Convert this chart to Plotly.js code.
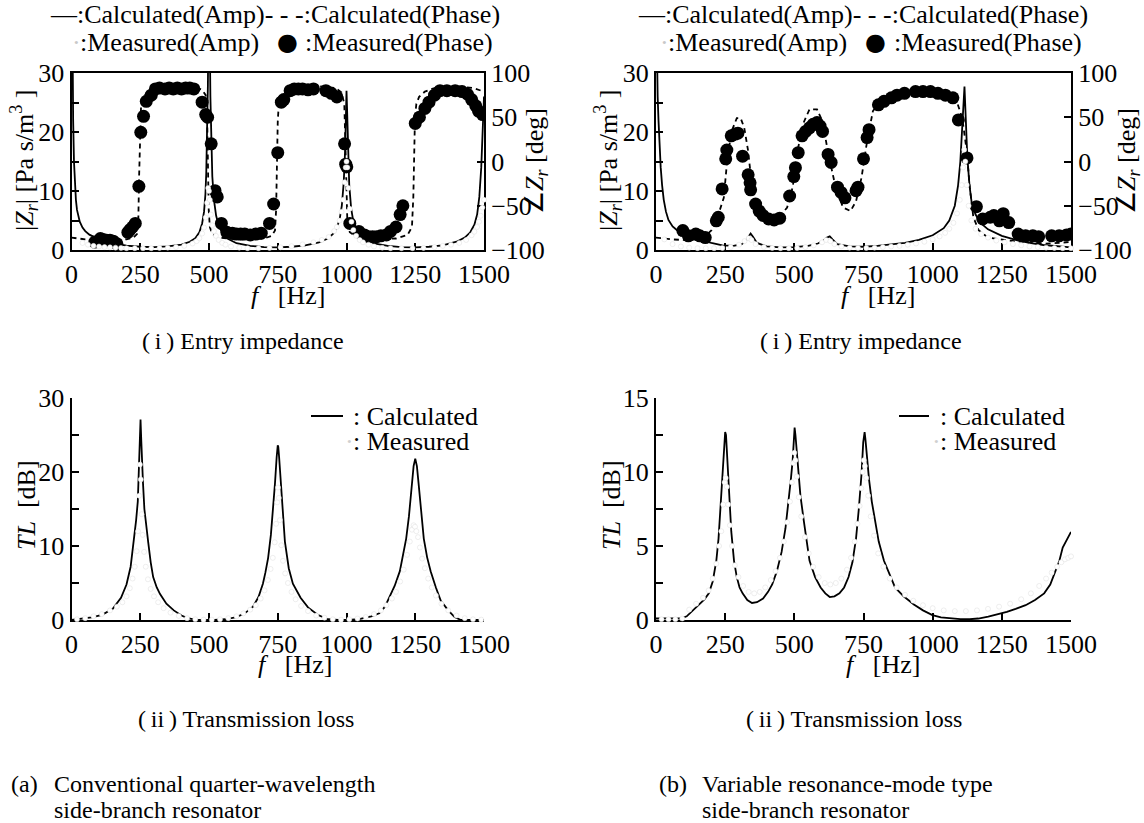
<!DOCTYPE html>
<html>
<head>
<meta charset="utf-8">
<script src="https://cdn.plot.ly/plotly-3.0.1.min.js"></script>
<style>html,body{margin:0;padding:0;background:#fff;}#chart{width:1144px;height:823px;}</style>
</head>
<body>
<div id="chart"></div>
<script>
// ---------- (a) conventional resonator : entry impedance ----------
// [f (Hz), |Zr| (Pa s/m^3)]
const aCalcAmp = [[0,60],[3,32],[6,22],[9,15],[12,11],[16,8.5],[20,6.8],[25,5.6],[30,4.8],[40,3.8],[50,3.2],[65,2.6],[80,2.2],[100,1.8],[130,1.35],[160,1.05],[200,0.75],[250,0.55],[300,0.5],[350,0.6],[400,0.9],[430,1.4],[450,2.0],[465,3.0],[475,4.5],[482,6.5],[487,9.5],[490,13],[493,19],[496,28],[499,45],[502,40],[505,26],[508,18],[512,12.5],[518,8.5],[526,5.8],[535,4.2],[548,2.9],[565,2.0],[600,1.15],[650,0.7],[700,0.5],[750,0.45],[800,0.55],[850,0.8],[900,1.3],[930,1.9],[950,2.7],[965,3.8],[975,5.2],[983,7.5],[990,11.5],[995,17],[998,23],[1000,27],[1002,24],[1005,17],[1010,11],[1017,7],[1025,4.8],[1040,3.1],[1060,2.1],[1100,1.1],[1150,0.7],[1200,0.5],[1250,0.45],[1300,0.55],[1350,0.8],[1400,1.4],[1430,2.1],[1450,3.0],[1465,4.3],[1475,6],[1483,9],[1490,14],[1495,20],[1500,26]];
// [f, phase (deg)]
const aCalcPhase = [[0,-86],[50,-88],[100,-89],[150,-89],[200,-88],[225,-86],[238,-82],[243,-65],[246,-15],[249,40],[253,64],[260,72],[275,78],[300,82],[350,84],[400,85],[450,84],[475,81],[488,75],[493,55],[496,0],[499,-55],[503,-74],[512,-82],[540,-86],[600,-88],[650,-88],[700,-87],[728,-84],[740,-78],[744,-55],[747,0],[750,45],[754,66],[762,74],[780,80],[820,84],[900,85],[960,83],[982,78],[992,65],[996,20],[999,-40],[1003,-68],[1012,-80],[1040,-86],[1100,-88],[1180,-87],[1222,-83],[1238,-74],[1243,-40],[1246,15],[1249,50],[1254,65],[1264,73],[1285,79],[1320,83],[1400,85],[1460,83],[1490,80],[1500,78]];
const aMeasAmp = [[40,1.2],[60,0.9],[80,0.7],[100,0.6],[120,0.5],[140,0.45],[160,0.4],[180,0.35],[200,0.3],[230,0.3],[260,0.3],[290,0.3],[320,0.35],[350,0.4],[380,0.5],[410,0.7],[440,1.1],[455,1.5],[465,2.0],[475,2.8],[482,3.8],[488,5.5],[493,8],[497,10.5],[500,10],[503,8.5],[507,6],[512,4.2],[518,3.2],[525,2.4],[535,1.7],[548,1.2],[560,0.9],[580,0.6],[610,0.4],[640,0.3],[680,0.3],[720,0.35],[760,0.45],[800,0.65],[840,0.95],[880,1.3],[910,1.7],[935,2.2],[955,3.2],[965,3.9],[975,5],[982,6.5],[988,8.5],[993,11.5],[997,14],[1000,15],[1003,14],[1007,10.5],[1012,7],[1018,4.8],[1025,3.4],[1035,2.4],[1048,1.7],[1060,1.3],[1080,0.9],[1100,0.6],[1130,0.4],[1160,0.3],[1200,0.3],[1240,0.3],[1280,0.35],[1320,0.5],[1350,0.7],[1380,0.9],[1410,1.2],[1435,1.7],[1455,2.5],[1465,3.1],[1475,3.9],[1482,4.8],[1488,5.8],[1494,7.2],[1500,8.5]];
const aMeasPhase = [[85,-91],[105,-87],[115,-88],[128,-89],[140,-89],[152,-90],[165,-93],[205,-80],[213,-77],[222,-74],[232,-70],[245,-28],[252,33],[262,51],[272,68],[290,75],[305,82],[320,83],[340,82],[355,83],[370,82],[385,83],[400,82],[415,83],[430,83],[445,82],[475,67],[488,53],[495,50],[508,20],[522,-33],[530,-40],[545,-70],[565,-80],[585,-81],[600,-82],[615,-82],[630,-82],[650,-83],[670,-82],[690,-81],[720,-70],[735,-48],[750,10],[763,67],[772,70],[795,80],[810,82],[825,82],[840,82],[860,81],[880,82],[925,80],[945,77],[965,73],[993,20],[997,-3],[1001,-6],[1012,-70],[1045,-79],[1065,-83],[1080,-85],[1095,-85],[1110,-85],[1125,-84],[1145,-83],[1160,-79],[1180,-74],[1195,-60],[1205,-50],[1250,43],[1265,50],[1285,60],[1300,67],[1320,75],[1340,80],[1365,80],[1395,80],[1420,79],[1440,76],[1455,70],[1470,63],[1480,57],[1495,53]];

// ---------- (b) variable resonance-mode resonator : entry impedance ----------
const bCalcAmp = [[0,45],[3,30],[6,26],[9,22],[12,18],[17,14],[22,11],[28,8.5],[36,6.5],[45,5.1],[60,4.0],[75,3.4],[95,2.8],[115,2.4],[140,2.0],[170,1.6],[200,1.2],[240,0.8],[280,0.7],[310,1.0],[325,1.6],[335,2.3],[342,2.8],[350,2.3],[365,1.2],[400,0.6],[450,0.45],[500,0.5],[550,0.7],[585,1.1],[605,1.6],[618,2.1],[628,2.3],[638,1.8],[655,1.0],[700,0.6],[750,0.55],[800,0.7],[850,0.9],[900,1.2],[950,1.7],[1000,2.5],[1040,3.7],[1060,5.0],[1080,7.5],[1092,11],[1100,15],[1106,20],[1111,25],[1115,27.7],[1119,23],[1125,16],[1133,11],[1141,8],[1155,6],[1175,4.5],[1200,3.5],[1250,2.4],[1300,1.7],[1350,1.2],[1400,0.85],[1450,0.6],[1500,0.45]];
const bCalcPhase = [[0,-86],[57,-88],[120,-89],[170,-86],[200,-78],[218,-67],[245,-41],[256,-3],[272,33],[292,49],[306,49],[319,38],[333,12],[346,-26],[366,-52],[400,-63],[440,-65],[474,-52],[494,-29],[514,16],[535,45],[555,59],[582,59],[602,45],[622,10],[649,-29],[676,-52],[703,-56],[723,-45],[743,-18],[763,23],[784,57],[811,68],[864,77],[932,81],[999,81],[1053,77],[1087,68],[1107,49],[1123,12],[1134,-29],[1147,-63],[1167,-78],[1200,-86],[1268,-89],[1400,-93],[1500,-91]];
const bMeasAmp = [[30,1.8],[60,1.0],[90,0.6],[120,0.4],[150,0.3],[180,0.3],[210,0.3],[240,0.35],[270,0.5],[300,0.9],[320,1.5],[335,2.0],[345,1.7],[360,1.0],[390,0.5],[420,0.35],[450,0.3],[480,0.3],[510,0.35],[540,0.5],[570,0.8],[600,1.3],[615,1.7],[630,1.5],[645,1.0],[670,0.6],[700,0.4],[730,0.35],[760,0.35],[790,0.4],[820,0.5],[850,0.6],[880,0.7],[910,0.9],[940,1.1],[970,1.4],[1000,1.8],[1025,2.3],[1045,2.9],[1060,3.6],[1075,4.6],[1088,6.2],[1098,8.5],[1105,11],[1110,14],[1114,17],[1118,15],[1123,11],[1130,7.5],[1140,5.0],[1155,3.6],[1175,2.7],[1200,2.1],[1230,1.6],[1260,1.3],[1290,1.0],[1320,0.8],[1350,0.6],[1380,0.5],[1410,0.4],[1440,0.35],[1470,0.3],[1500,0.3]];
const bMeasPhase = [[97,-78],[117,-84],[144,-82],[158,-84],[178,-86],[218,-67],[225,-63],[239,-31],[252,3],[256,13],[272,29],[286,31],[296,32],[313,6],[333,-15],[340,-24],[342,-32],[360,-48],[373,-56],[387,-61],[407,-65],[427,-66],[447,-64],[483,-39],[498,-17],[504,-7],[514,10],[528,29],[541,34],[555,38],[568,42],[582,44],[593,40],[602,34],[622,8],[633,-1],[656,-29],[669,-35],[683,-41],[723,-33],[730,-29],[750,3],[763,27],[770,36],[804,64],[824,68],[851,72],[871,75],[898,77],[938,79],[965,79],[992,79],[1019,77],[1046,75],[1073,72],[1093,47],[1124,4],[1158,-51],[1181,-65],[1208,-63],[1221,-61],[1241,-67],[1255,-59],[1275,-69],[1309,-82],[1336,-84],[1362,-84],[1383,-85],[1430,-84],[1457,-84],[1484,-83],[1500,-82]];

// ---------- transmission loss [f, TL dB] ----------
const aCalcTL = [[0,0],[40,0.15],[73,0.35],[111,0.7],[150,1.5],[180,3.0],[200,4.8],[215,7.2],[225,10],[235,13.5],[241,16],[245,19.5],[248,24],[251,27.1],[254,24],[257,20.5],[260,18.5],[265,15],[272,12.5],[279,10.5],[288,7.8],[297,5.8],[310,4.4],[322,3.5],[345,2.2],[372,1.3],[400,0.6],[422,0.25],[450,0.05],[480,0],[520,0],[560,0.1],[600,0.4],[630,0.9],[660,1.8],[680,3.1],[696,4.9],[705,6.4],[715,8.4],[725,11.5],[733,15],[740,18.5],[746,22],[750,23.6],[752,23.4],[755,22],[760,19.4],[768,14.5],[776,10.6],[790,7],[805,4.9],[833,3.0],[860,1.7],[895,0.7],[932,0.1],[970,0],[1010,0],[1050,0.15],[1090,0.5],[1119,0.9],[1140,1.8],[1156,3.1],[1175,4.6],[1194,6.6],[1205,8.5],[1217,11],[1227,14],[1237,18.5],[1244,20.8],[1250,21.8],[1256,20.8],[1262,18.5],[1272,14.5],[1281,11],[1293,8.5],[1306,6.6],[1325,4.4],[1343,2.6],[1370,1.3],[1393,0.4],[1416,0],[1450,0],[1500,0]];
const aMeasTL = [[20,0.1],[50,0.25],[80,0.5],[110,0.8],[140,1.3],[165,1.8],[185,2.4],[200,3.2],[212,4.3],[222,5.6],[230,7.2],[237,9.3],[242,12],[246,16.8],[249,21],[252,19],[255,14.3],[259,11.5],[264,9.2],[270,7.2],[278,5.5],[288,4.2],[300,3.2],[315,2.4],[335,1.6],[360,1.0],[390,0.55],[420,0.25],[450,0.1],[480,0.05],[510,0.05],[540,0.1],[570,0.25],[600,0.5],[625,0.9],[650,1.4],[670,2.0],[688,2.9],[702,4.0],[714,5.4],[724,6.9],[732,8.4],[739,10.5],[744,13],[748,15.9],[751,17.9],[754,16.5],[758,13.5],[763,10.1],[769,8],[777,6.3],[787,5.0],[800,3.8],[815,2.8],[835,1.9],[860,1.2],[890,0.6],[920,0.3],[950,0.1],[980,0.05],[1010,0.1],[1040,0.2],[1070,0.4],[1100,0.8],[1125,1.3],[1145,2.0],[1165,2.9],[1180,3.8],[1195,5.2],[1208,6.8],[1220,8.8],[1230,10.6],[1238,12.2],[1244,12.8],[1249,12.6],[1254,12.0],[1260,11.2],[1267,9.8],[1275,8.3],[1285,7.0],[1297,5.6],[1310,4.4],[1325,3.3],[1345,2.2],[1370,1.3],[1400,0.6],[1430,0.25],[1460,0.1],[1490,0.05]];
const bCalcTL = [[0,0.1],[30,0.1],[60,0.1],[90,0.1],[111,0.25],[125,0.5],[138,0.8],[155,1.1],[175,1.4],[191,1.8],[205,2.6],[218,4.0],[226,5.5],[232,7.3],[238,9.3],[243,11],[247,12.2],[250,12.7],[253,12.5],[257,11],[262,9.2],[267,7.5],[272,6],[282,4],[292,2.9],[302,2.2],[313,1.8],[330,1.35],[347,1.15],[365,1.2],[387,1.45],[405,1.9],[420,2.4],[437,3.3],[454,4.6],[468,6.2],[481,8.2],[488,9.6],[494,10.8],[498,12.2],[501,13.0],[504,12.5],[508,11.5],[514,10.0],[522,8.4],[535,6.6],[545,5.2],[555,4.0],[575,2.9],[595,2.2],[612,1.8],[628,1.55],[645,1.6],[663,1.8],[680,2.2],[696,2.9],[710,3.9],[723,5.5],[733,7.5],[743,9.9],[749,12.0],[752,12.6],[754,12.7],[757,12.2],[762,11.0],[770,9.5],[780,8.0],[790,6.8],[805,5.3],[824,4.0],[845,3.0],[864,2.2],[895,1.6],[932,1.05],[965,0.65],[999,0.33],[1030,0.18],[1066,0.1],[1100,0.06],[1134,0.05],[1165,0.1],[1201,0.22],[1235,0.38],[1268,0.55],[1300,0.75],[1336,1.0],[1370,1.35],[1403,1.8],[1425,2.4],[1443,3.3],[1458,4.0],[1470,4.9],[1485,5.4],[1497,5.85],[1500,5.95]];
const bMeasTL = [[20,0.05],[45,0.05],[70,0.05],[95,0.1],[120,0.7],[145,1.1],[170,1.5],[190,2.0],[205,2.8],[218,3.8],[228,5.0],[236,6.0],[243,7.8],[248,9.3],[252,9.6],[256,9.0],[261,7.8],[267,6.4],[275,5.0],[285,3.7],[298,2.9],[315,2.3],[335,1.9],[355,1.8],[375,1.9],[395,2.2],[415,2.7],[432,3.3],[448,4.2],[462,5.3],[474,6.6],[484,8.0],[491,9.3],[496,10.6],[500,11.3],[504,10.8],[509,9.7],[516,8.3],[525,7.0],[538,5.6],[552,4.5],[568,3.6],[588,2.9],[610,2.5],[630,2.4],[650,2.5],[670,2.8],[690,3.4],[705,4.2],[718,5.3],[728,6.5],[736,7.7],[742,8.9],[747,10.0],[751,10.8],[755,10.4],[760,9.6],[767,8.4],[776,7.0],[788,5.7],[803,4.5],[822,3.6],[845,2.8],[870,2.2],[900,1.7],[930,1.3],[965,1.0],[1000,0.8],[1040,0.65],[1080,0.6],[1120,0.6],[1160,0.65],[1200,0.75],[1240,0.9],[1280,1.1],[1320,1.4],[1355,1.8],[1385,2.3],[1410,2.8],[1430,3.2],[1450,3.6],[1465,3.9],[1478,4.1],[1490,4.2],[1500,4.3]];

// ---------- text ----------
const fTicks = [0,250,500,750,1000,1250,1500];
const legendTop1 = "\u2014:Calculated(Amp)- - -:Calculated(Phase)";
const legendTop2a = ":Measured(Amp)";
const legendTop2b = ":Measured(Phase)";
const capImp = "(\u2009i\u2009) Entry impedance";
const capTL = "(\u2009ii\u2009) Transmission loss";

// ---------- helpers ----------
const W = 1144, H = 823;
const FONT = "Liberation Serif, Times New Roman, serif";
const PX = x => x / W, PY = y => 1 - y / H;
const xs = a => a.map(p => p[0]), ys = a => a.map(p => p[1]);

function line(d, xa, ya, dash) {
  return {x: xs(d), y: ys(d), xaxis: xa, yaxis: ya, type: 'scatter', mode: 'lines',
    line: {color: 'black', width: 1.8, dash: dash || 'solid'}, hoverinfo: 'skip'};
}
function dots(d, xa, ya) {
  return {x: xs(d), y: ys(d), xaxis: xa, yaxis: ya, type: 'scatter', mode: 'markers',
    marker: {color: 'black', size: 13}, hoverinfo: 'skip'};
}
function white(d, xa, ya) {
  return {x: xs(d), y: ys(d), xaxis: xa, yaxis: ya, type: 'scatter', mode: 'markers', cliponaxis: false,
    marker: {color: 'white', size: 5, line: {color: '#dcdcdc', width: 0.5}}, hoverinfo: 'skip'};
}

const DASH = '5px,4px';
const traces = [
  line(aCalcPhase, 'x', 'y', DASH), dots(aMeasPhase, 'x', 'y'),
  line(aCalcAmp, 'x', 'y2'), white(aMeasAmp, 'x', 'y2'),
  line(bCalcPhase, 'x2', 'y3', DASH), dots(bMeasPhase, 'x2', 'y3'),
  line(bCalcAmp, 'x2', 'y4'), white(bMeasAmp, 'x2', 'y4'),
  line(aCalcTL, 'x3', 'y5'), white(aMeasTL, 'x3', 'y5'),
  line(bCalcTL, 'x4', 'y6'), white(bMeasTL, 'x4', 'y6')
];

const tickfont = {family: FONT, size: 26, color: 'black'};
const base = {showline: true, linecolor: 'black', linewidth: 2, ticks: 'inside', ticklen: 7, tickwidth: 2,
  tickcolor: 'black', showgrid: false, zeroline: false, tickfont: tickfont, layer: 'below traces', fixedrange: true};

function xax(dom, anchor, mirror) {
  return Object.assign({}, base, {domain: dom, anchor: anchor, range: [0, 1500], tickvals: fTicks,
    ticktext: fTicks.map(String), mirror: mirror});
}
function yax(dom, anchor, max, dt, minor, side, overlay) {
  const o = Object.assign({}, base, {anchor: anchor, range: [side === 'right' ? -100 : 0, max], dtick: dt, tick0: 0, side: side || 'left'});
  if (overlay) o.overlaying = overlay; else o.domain = dom;
  if (minor) o.minor = {dtick: minor, ticks: 'inside', ticklen: 7, tickwidth: 2, tickcolor: 'black', showgrid: false};
  return o;
}

const xTL = [PX(71.5), PX(484)], xTR = [PX(656), PX(1071)];
const yTop = [PY(250), PY(73)], yBot = [PY(620), PY(398)];

function ann(text, x, y, opts) {
  return Object.assign({text: text, x: PX(x), y: PY(y), xref: 'paper', yref: 'paper', showarrow: false,
    xanchor: 'center', yanchor: 'middle', font: {family: FONT, size: 26, color: 'black'}}, opts || {});
}
const annotations = [];
[0, 1].forEach(i => {
  const L1 = i ? 636 : 48, L2 = i ? 666 : 77.5, B = i ? 875 : 287.5, L3 = i ? 891.5 : 303;
  annotations.push(ann(legendTop1, L1, 15, {xanchor: 'left'}));
  annotations.push(ann("\u00b7", L2 - 8, 42, {xanchor: 'left', font: {family: FONT, size: 26, color: '#c8c8c8'}}));
  annotations.push(ann(legendTop2a, L2, 42, {xanchor: 'left'}));
  annotations.push(ann("\u25cf", B, 42, {font: {family: 'DejaVu Sans', size: 24, color: 'black'}}));
  annotations.push(ann(legendTop2b, L3, 42, {xanchor: 'left'}));
});
// axis titles
annotations.push(ann("|<i>Z<sub>r</sub></i>| [Pa s/m<sup>3</sup> ]", 24, 161, {textangle: -90}));
annotations.push(ann("|<i>Z<sub>r</sub></i>| [Pa s/m<sup>3</sup> ]", 608, 161, {textangle: -90}));
annotations.push(ann("\u2220<i>Z<sub>r</sub></i> [deg]", 536, 161, {textangle: -90}));
annotations.push(ann("\u2220<i>Z<sub>r</sub></i> [deg]", 1128, 161, {textangle: -90}));
annotations.push(ann("<i>f</i>\u00a0\u00a0\u00a0[Hz]", 288, 295));
annotations.push(ann("<i>f</i>\u00a0\u00a0\u00a0[Hz]", 878, 295));
annotations.push(ann("<i>f</i>\u00a0\u00a0\u00a0[Hz]", 295, 664));
annotations.push(ann("<i>f</i>\u00a0\u00a0\u00a0[Hz]", 883, 664));
annotations.push(ann("<i>TL</i>\u00a0\u00a0[dB]", 27, 505, {textangle: -90}));
annotations.push(ann("<i>TL</i>\u00a0\u00a0[dB]", 612, 505, {textangle: -90}));
// TL legends
annotations.push(ann(": Calculated", 351, 416, {xanchor: 'left'}));
annotations.push(ann("\u00b7", 343, 441, {xanchor: 'left', font: {family: FONT, size: 26, color: '#d0d0d0'}}));
annotations.push(ann(": Measured", 351, 441, {xanchor: 'left'}));
annotations.push(ann(": Calculated", 938, 416, {xanchor: 'left'}));
annotations.push(ann("\u00b7", 930, 441, {xanchor: 'left', font: {family: FONT, size: 26, color: '#d0d0d0'}}));
annotations.push(ann(": Measured", 938, 441, {xanchor: 'left'}));
// captions
const cf = {family: FONT, size: 24, color: 'black'};
annotations.push(ann(capImp, 243, 341, {font: cf}));
annotations.push(ann(capImp, 861, 341, {font: cf}));
annotations.push(ann(capTL, 246, 719, {font: cf}));
annotations.push(ann(capTL, 854, 719, {font: cf}));
annotations.push(ann("(a)", 9, 784, {xanchor: 'left', font: cf}));
annotations.push(ann("Conventional quarter-wavelength", 52, 784, {xanchor: 'left', font: cf}));
annotations.push(ann("side-branch resonator", 52, 810, {xanchor: 'left', font: cf}));
annotations.push(ann("(b)", 657, 784, {xanchor: 'left', font: cf}));
annotations.push(ann("Variable resonance-mode type", 700, 784, {xanchor: 'left', font: cf}));
annotations.push(ann("side-branch resonator", 700, 810, {xanchor: 'left', font: cf}));

const shapes = [
  {type: 'line', xref: 'paper', yref: 'paper', x0: PX(311), x1: PX(343), y0: PY(416), y1: PY(416), line: {color: 'black', width: 2}},
  {type: 'line', xref: 'paper', yref: 'paper', x0: PX(899), x1: PX(929), y0: PY(416), y1: PY(416), line: {color: 'black', width: 2}}
];

const layout = {
  width: W, height: H, margin: {l: 0, r: 0, t: 0, b: 0}, paper_bgcolor: 'white', plot_bgcolor: 'rgba(0,0,0,0)',
  showlegend: false, font: {family: FONT, color: 'black'},
  xaxis: xax(xTL, 'y', true),
  yaxis: yax(yTop, 'x', 100, 50, null, 'right'),
  yaxis2: yax(null, 'x', 30, 10, 5, 'left', 'y'),
  xaxis2: xax(xTR, 'y3', true),
  yaxis3: yax(yTop, 'x2', 100, 50, null, 'right'),
  yaxis4: yax(null, 'x2', 30, 10, 5, 'left', 'y3'),
  xaxis3: xax(xTL, 'y5', false),
  yaxis5: yax(yBot, 'x3', 30, 10, 5, 'left'),
  xaxis4: xax(xTR, 'y6', false),
  yaxis6: yax(yBot, 'x4', 15, 5, 2.5, 'left'),
  annotations: annotations, shapes: shapes
};

Plotly.newPlot('chart', traces, layout, {displayModeBar: false, staticPlot: true});
</script>
</body>
</html>
